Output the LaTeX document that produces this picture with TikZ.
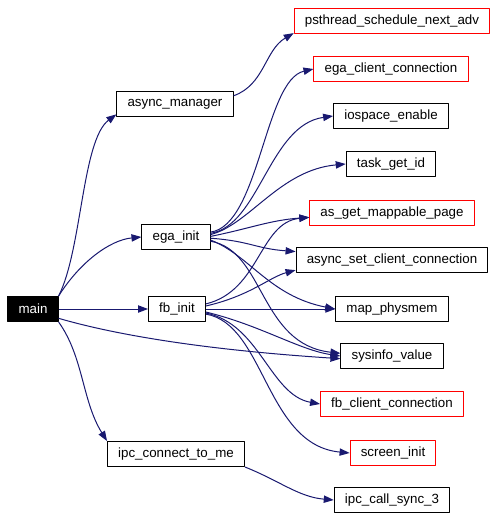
\documentclass[tikz,border=0pt]{standalone}
\usepackage{fontspec}
\setmainfont{Liberation Sans}
\usetikzlibrary{arrows.meta}
\definecolor{edgeblue}{HTML}{191970}
\begin{document}
\begin{tikzpicture}[x=0.75pt, y=-0.75pt, line join=round,
    font=\fontsize{10}{12}\selectfont,
    fn/.style={draw=black, line width=0.75pt, minimum height=18.75pt, inner xsep=8pt, inner ysep=0pt},
    fnred/.style={fn, draw=red},
    fnroot/.style={fn, fill=black, text=white},
    edge/.style={draw=edgeblue, line width=0.75pt, -{Triangle[length=7.5pt, width=5.5pt]}}]
    \useasboundingbox (0,0) rectangle (498,519);

    % caller side
    \node[fnroot] (main) at (33,309) {main};
    \node[fn] (async_manager) at (175,104) {async\_manager};
    \node[fn] (ega_init) at (176,237) {ega\_init};
    \node[fn] (fb_init) at (177,309) {fb\_init};
    \node[fn] (ipc_connect_to_me) at (176,454) {ipc\_connect\_to\_me};

    % callees
    \node[fnred] (psthread) at (392,21) {psthread\_schedule\_next\_adv};
    \node[fnred] (ega_client) at (391,69) {ega\_client\_connection};
    \node[fn] (iospace) at (391,116) {iospace\_enable};
    \node[fn] (task_get_id) at (391,164) {task\_get\_id};
    \node[fnred] (as_get) at (392,213) {as\_get\_mappable\_page};
    \node[fn] (async_set) at (392,260) {async\_set\_client\_connection};
    \node[fn] (map_physmem) at (392,309) {map\_physmem};
    \node[fn] (sysinfo) at (392,356) {sysinfo\_value};
    \node[fnred] (fb_client) at (392,404) {fb\_client\_connection};
    \node[fnred] (screen_init) at (393,453) {screen\_init};
    \node[fn] (ipc_call) at (392,500) {ipc\_call\_sync\_3};

    % main
    \draw[edge] (main.north east) .. controls (82,250) and (82,140) .. (async_manager.190);
    \draw[edge] (main.north east) .. controls (80,262) and (110,240) .. (ega_init.west);
    \draw[edge] (main.east) -- (fb_init.west);
    \draw[edge] (main.340) .. controls +(93,27) and +(-60,-4) .. (sysinfo.183);
    \draw[edge] (main.south east) .. controls +(25,35) and +(-25,-40) .. (ipc_connect_to_me.north west);

    % async_manager
    \draw[edge] (async_manager.8) .. controls +(31,-11) and +(-29,17) .. (psthread.187);

    % ega_init
    \draw[edge] (ega_init.8) .. controls +(49,-7) and +(-49,11) .. (ega_client.west);
    \draw[edge] (ega_init.6) .. controls +(49,-8) and +(-64,9) .. (iospace.west);
    \draw[edge] (ega_init.4) .. controls +(39,-10) and +(-66,6) .. (task_get_id.west);
    \draw[edge] (ega_init.1) .. controls +(40,-8) and +(-40,3) .. (as_get.183);
    \draw[edge] (ega_init.358) .. controls +(40,3) and +(-40,-3) .. (async_set.175);
    \draw[edge] (ega_init.355) .. controls +(39,15) and +(-66,-13) .. (map_physmem.west);
    \draw[edge] (ega_init.353) .. controls +(54,9) and +(-81,-9) .. (sysinfo.177);

    % fb_init
    \draw[edge] (fb_init.10) .. controls +(54,-13) and +(-50,5) .. (as_get.183);
    \draw[edge] (fb_init.6) .. controls +(44,-10) and +(-26,7) .. (async_set.186);
    \draw[edge] (fb_init.east) -- (map_physmem.west);
    \draw[edge] (fb_init.354) .. controls +(54,13) and +(-41,-6) .. (sysinfo.west);
    \draw[edge] (fb_init.352) .. controls +(54,11) and +(-50,-9) .. (fb_client.west);
    \draw[edge] (fb_init.350) .. controls +(59,10) and +(-84,-8) .. (screen_init.west);

    % ipc_connect_to_me
    \draw[edge] (ipc_connect_to_me.south east) .. controls +(35,14) and +(-35,-3) .. (ipc_call.west);
\end{tikzpicture}
\end{document}
